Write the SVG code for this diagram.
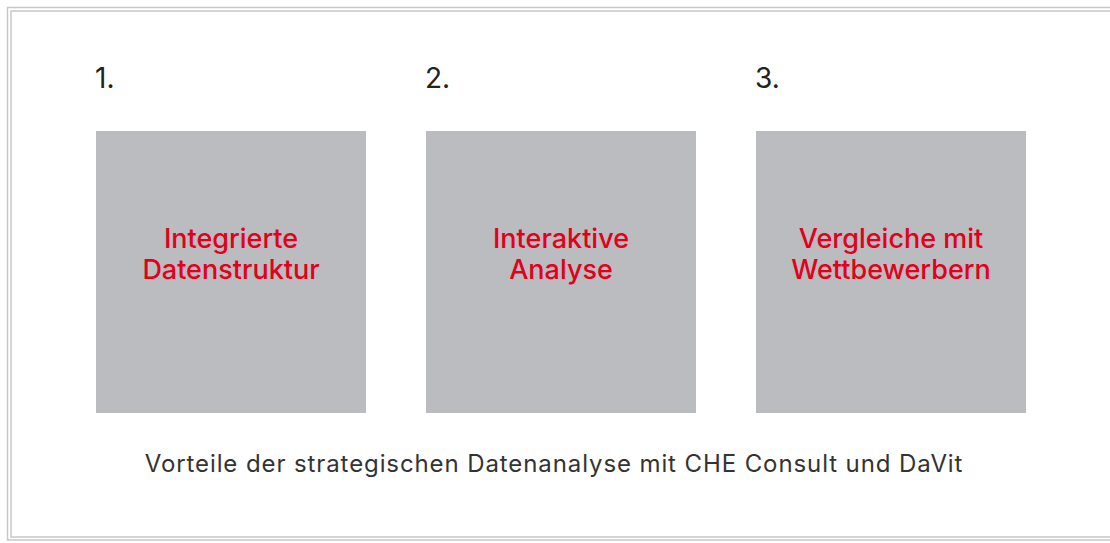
<svg xmlns="http://www.w3.org/2000/svg" width="1110" height="543" viewBox="0 0 1110 543">
<style>
.frame{fill:none;stroke:#c8c8c8;stroke-width:1.5}
.box{fill:#bbbcc0}
.num{font-family:Inter,"Liberation Sans",sans-serif;font-size:28px;fill:#222;font-weight:400}
.lbl{font-family:Inter,"Liberation Sans",sans-serif;font-size:27px;fill:#e2001a;font-weight:500;text-anchor:middle}
.cap{font-family:Inter,"Liberation Sans",sans-serif;font-size:24px;fill:#333;text-anchor:middle;letter-spacing:0.9px}
</style>
<rect width="1110" height="543" fill="#fff"/>
<rect class="frame" x="7.5" y="7.5" width="1120" height="532.5"/>
<rect class="frame" x="11" y="11" width="1110" height="526"/>
<g id="node1">
<text class="num" x="95" y="88">1.</text>
<rect class="box" x="96" y="131" width="270" height="282"/>
<text class="lbl" x="231" y="248">Integrierte</text>
<text class="lbl" x="231" y="279">Datenstruktur</text>
</g>
<g id="node2">
<text class="num" x="425" y="88">2.</text>
<rect class="box" x="426" y="131" width="270" height="282"/>
<text class="lbl" x="561" y="248">Interaktive</text>
<text class="lbl" x="561" y="279">Analyse</text>
</g>
<g id="node3">
<text class="num" x="755" y="88">3.</text>
<rect class="box" x="756" y="131" width="270" height="282"/>
<text class="lbl" x="891" y="248">Vergleiche mit</text>
<text class="lbl" x="891" y="279">Wettbewerbern</text>
</g>
<g id="connectors"></g>
<g id="caption">
<text class="cap" x="554" y="472">Vorteile der strategischen Datenanalyse mit CHE Consult und DaVit</text>
</g>
</svg>
